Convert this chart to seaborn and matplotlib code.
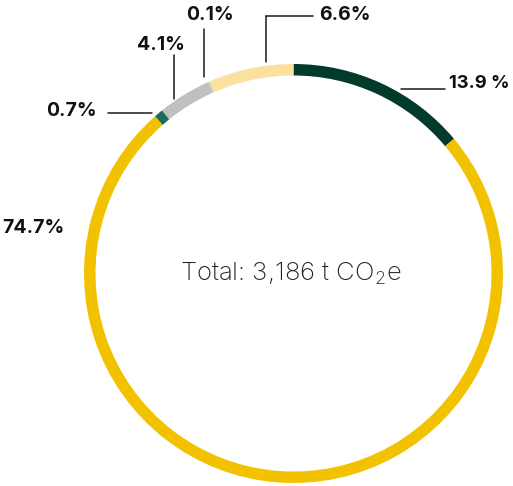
import matplotlib
matplotlib.use("Agg")
import matplotlib.pyplot as plt
import seaborn as sns

sns.set_theme(style="white")
plt.rcParams['font.family'] = ['Inter', 'DejaVu Sans']

labels = ["13.9 %", "74.7%", "0.7%", "4.1%", "0.1%", "6.6%"]
values = [13.9, 74.7, 0.7, 4.1, 0.1, 6.6]
colors = ["#023a2c", "#f2c200", "#1f6b5b", "#c0c0c0", "#a9c9bd", "#fbe09e"]
total_label = "Total: 3,186 t CO$_\\mathregular{2}$e"

W, H = 513, 486
fig = plt.figure(figsize=(W / 100, H / 100), dpi=100)
ax = fig.add_axes([0, 0, 1, 1])

cx, cy, r = 293.5, H - 273.5, 209.5
ax.pie(values, colors=colors, startangle=90, counterclock=False,
       center=(cx, cy), radius=r, frame=True,
       wedgeprops=dict(width=11.5, linewidth=0))
ax.set_xlim(0, W)
ax.set_ylim(0, H)
ax.set_aspect("equal")
ax.axis("off")

def Y(y):
    return H - y

lc = "#1a1a1a"
lw = 1.1
# 13.9
ax.plot([401, 445], [Y(89), Y(89)], color=lc, lw=lw)
# 6.6
ax.plot([266, 313], [Y(16), Y(16)], color=lc, lw=lw)
ax.plot([266, 266], [Y(16), Y(62)], color=lc, lw=lw)
# 0.1
ax.plot([204, 204], [Y(29), Y(77)], color=lc, lw=lw)
# 4.1
ax.plot([174, 174], [Y(55), Y(99)], color=lc, lw=lw)
# 0.7
ax.plot([108, 152], [Y(113), Y(113)], color=lc, lw=lw)

pos = {
    "13.9 %": (449, 84, 13.2),
    "6.6%": (319, 15, 14),
    "0.1%": (186, 15, 14),
    "4.1%": (137, 45, 14),
    "0.7%": (46, 111, 14),
    "74.7%": (2, 228, 14),
}
for lab in labels:
    x, y, fs = pos[lab]
    ax.text(x, Y(y), lab, ha="left", va="center", fontsize=fs,
            fontweight="bold", color="#111111")

ax.text(291, Y(274), total_label, ha="center", va="center",
        fontsize=18.5, fontweight="light", color="#222222")

fig.savefig("out.png", dpi=100)
